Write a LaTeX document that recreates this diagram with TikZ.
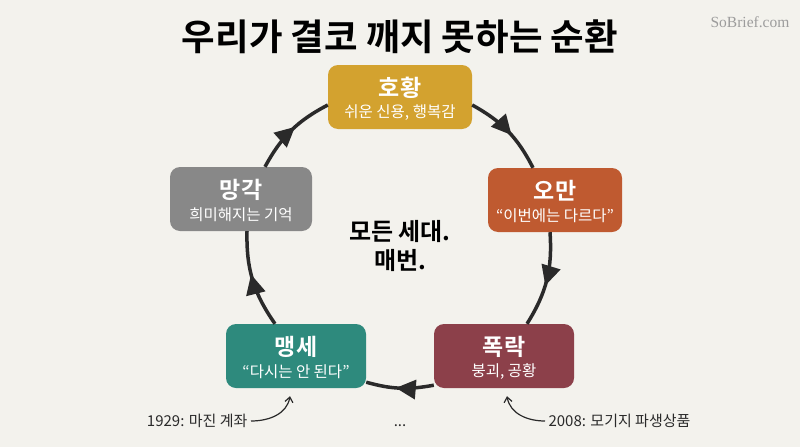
\documentclass[tikz,border=0pt]{standalone}
\usepackage{fontspec}
\setmainfont{Noto Sans CJK KR}[BoldFont=* Bold]
\newfontfamily\wmfont{Liberation Serif}
\usetikzlibrary{arrows.meta,decorations.markings}
\definecolor{bg}{HTML}{F3F2ED}
\definecolor{ink}{HTML}{2A2A2A}
\definecolor{wmgray}{HTML}{9C9C9C}
\definecolor{boom}{HTML}{D3A22F}
\definecolor{pride}{HTML}{BF5A30}
\definecolor{bust}{HTML}{8C404A}
\definecolor{vow}{HTML}{2E8A7D}
\definecolor{forget}{HTML}{888888}

\begin{document}
\begin{tikzpicture}[x=1pt,y=-1pt,
 phase/.style={rounded corners=10pt,minimum height=64pt,inner sep=0pt},
 phtitle/.style={text=white,font=\bfseries\fontsize{23}{27}\selectfont,inner sep=0pt},
 phsub/.style={text=white,font=\fontsize{15.5}{18}\selectfont,inner sep=0pt},
 cyc/.style={line width=3.5pt,draw=ink,postaction={decorate},
  decoration={markings,mark=at position 0.56 with {\arrow{Triangle[length=20pt,width=19pt]}}}},
 note/.style={font=\fontsize{15}{17}\selectfont,text=ink},
 noteline/.style={line width=1.2pt,draw=ink,-{Straight Barb[length=5pt,width=8pt]}}]
\fill[bg] (0,0) rectangle (800,447);
\node[font=\bfseries\fontsize{36.5}{40}\selectfont,text=black] (ttl) at (400,37) {우리가 결코 깨지 못하는 순환};
\node[font=\wmfont\fontsize{15.5}{17}\selectfont,text=wmgray] (src) at (750,22) {SoBrief.com};
% the five phases
\node[phase,fill=boom,minimum width=144pt] (hw) at (400,97) {};
\node[phase,fill=pride,minimum width=134pt] (om) at (555,200) {};
\node[phase,fill=bust,minimum width=140pt] (pr) at (504,356) {};
\node[phase,fill=vow,minimum width=140pt] (ms) at (296,356) {};
\node[phase,fill=forget,minimum width=142pt] (mg) at (241,199) {};
\node[phtitle] (hwT) at ([yshift=9pt]hw.center) {호황};
\node[phsub] (hwS) at ([yshift=-16pt]hw.center) {쉬운 신용, 행복감};
\node[phtitle] (omT) at ([yshift=9pt]om.center) {오만};
\node[phsub] (omS) at ([yshift=-16pt]om.center) {“이번에는 다르다”};
\node[phtitle] (prT) at ([yshift=9pt]pr.center) {폭락};
\node[phsub] (prS) at ([yshift=-16pt]pr.center) {붕괴, 공황};
\node[phtitle] (msT) at ([yshift=9pt]ms.center) {맹세};
\node[phsub] (msS) at ([yshift=-16pt]ms.center) {“다시는 안 된다”};
\node[phtitle] (mgT) at ([yshift=9pt]mg.center) {망각};
\node[phsub] (mgS) at ([yshift=-16pt]mg.center) {희미해지는 기억};
\node[font=\bfseries\fontsize{24}{29}\selectfont,align=center,text=black] (mid) at (400,246) {모든 세대.\\매번.};
% cycle
\draw[cyc] ([yshift=-8pt]hw.east) to[bend left=17] ([xshift=-22pt]om.north);
\draw[cyc] ([xshift=-5pt]om.south) to[bend left=18] ([xshift=23pt]pr.north);
\draw[cyc] ([yshift=3pt]pr.south west) to[bend left=13] ([yshift=6pt]ms.south east);
\draw[cyc] ([xshift=-21pt]ms.north) to[bend left=18] ([xshift=6pt]mg.south);
\draw[cyc] ([xshift=24pt]mg.north) to[bend left=17] ([yshift=-8pt]hw.west);
% examples
\node[note,anchor=east] (t29) at (251,421) {1929: 마진 계좌};
\node[note] (dots) at (400,426) {...};
\node[note,anchor=west] (t08) at (545,421) {2008: 모기지 파생상품};
\draw[noteline] (t29.east) to[out=0,in=-100] ([xshift=-6pt,yshift=-8pt]ms.south);
\draw[noteline] (t08.west) to[out=180,in=-80] ([xshift=3pt,yshift=-8pt]pr.south);
\end{tikzpicture}
\end{document}
